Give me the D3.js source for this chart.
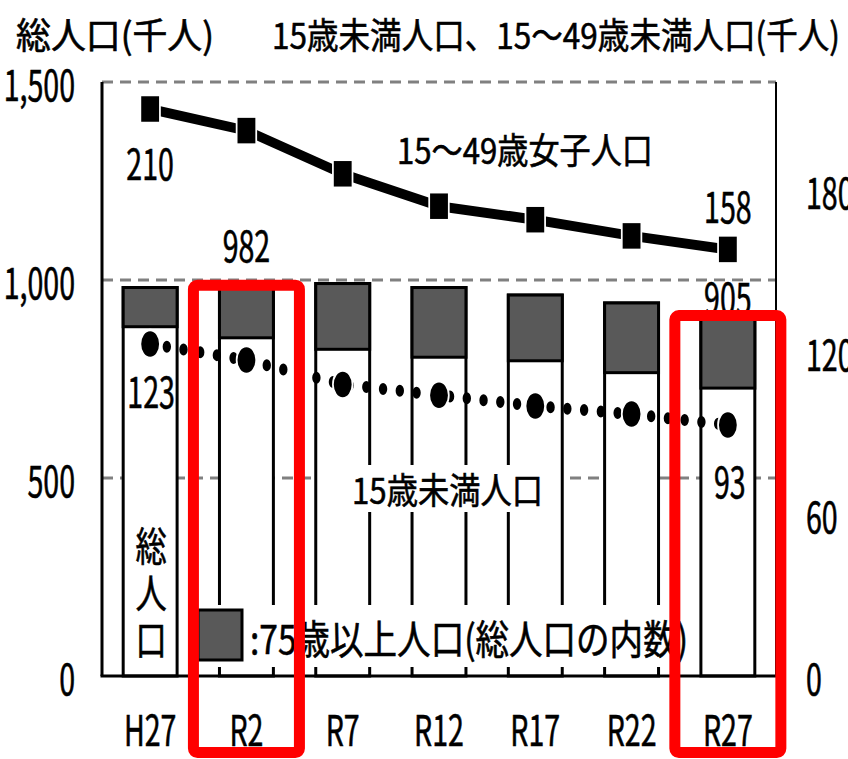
<!DOCTYPE html>
<html lang="ja">
<head>
<meta charset="utf-8">
<script src="https://cdn.jsdelivr.net/npm/d3@7/dist/d3.min.js"></script>
<style>
  html, body { margin: 0; padding: 0; background: #fff; }
  svg { display: block; }
  text { font-family: "Noto Sans CJK JP", "Noto Sans", sans-serif; fill: #000; stroke: #000; stroke-width: 0.6px; }
</style>
</head>
<body>
<svg id="chart" width="848" height="759"></svg>
<script>
// 年次区分
const categories = ["H27", "R2", "R7", "R12", "R17", "R22", "R27"];
// 総人口（千人）
const totalPop = [981, 982, 991, 981, 962, 942, 905];
// 75歳以上人口（総人口の内数、千人）
const pop75 = [99, 128, 166, 176, 166, 176, 178];
// 15～49歳女子人口（千人）
const women1549 = [210, 202, 186, 174, 169, 163, 158];
// 15歳未満人口（千人）
const under15 = [123, 117, 108, 104, 100, 97, 93];
// 目盛り
const leftTicks = [0, 500, 1000, 1500];
const rightTicks = [0, 60, 120, 180];
// 強調する年次
const highlighted = ["R2", "R27"];

const svg = d3.select("#chart");
const plotL = 102, plotR = 776, plotT = 82, plotB = 676;

const x = d3.scaleBand().domain(categories).range([plotL, plotR])
  .paddingInner(0.44).paddingOuter(0.22);
const yL = d3.scaleLinear().domain([0, 1500]).range([plotB, plotT]);
const yR = d3.scaleLinear().domain([0, 220]).range([plotB, plotT]);
const cx = c => x(c) + x.bandwidth() / 2;

// 横長の文字を圧縮して描く
const NUM_SIZE = 42, NUM_SX = 0.68;
function numText(g, txt, px, py, anchor) {
  return g.append("text")
    .attr("transform", `translate(${px},${py}) scale(${NUM_SX},1)`)
    .attr("text-anchor", anchor || "middle")
    .attr("dominant-baseline", "central")
    .style("font-size", NUM_SIZE + "px")
    .text(txt);
}
function fitText(g, txt, x0, width, py, size) {
  return g.append("text")
    .attr("x", x0).attr("y", py)
    .attr("dominant-baseline", "central")
    .attr("textLength", width)
    .attr("lengthAdjust", "spacingAndGlyphs")
    .style("font-size", size + "px")
    .text(txt);
}

// 目盛線
svg.append("g").selectAll("line")
  .data(leftTicks.filter(v => v > 0))
  .join("line")
  .attr("x1", plotL).attr("x2", plotR)
  .attr("y1", d => yL(d)).attr("y2", d => yL(d))
  .attr("stroke", "#808080").attr("stroke-width", 3)
  .attr("stroke-dasharray", "11,7");

// 総人口の棒
const bars = svg.append("g");
bars.selectAll("rect.total")
  .data(categories)
  .join("rect")
  .attr("class", "total")
  .attr("x", d => x(d)).attr("width", x.bandwidth())
  .attr("y", (d, i) => yL(totalPop[i]))
  .attr("height", (d, i) => yL(0) - yL(totalPop[i]))
  .attr("fill", "#fff").attr("stroke", "#000").attr("stroke-width", 3);
bars.selectAll("rect.old")
  .data(categories)
  .join("rect")
  .attr("class", "old")
  .attr("x", d => x(d)).attr("width", x.bandwidth())
  .attr("y", (d, i) => yL(totalPop[i]))
  .attr("height", (d, i) => yL(totalPop[i] - pop75[i]) - yL(totalPop[i]))
  .attr("fill", "#595959").attr("stroke", "#000").attr("stroke-width", 3);

// 軸線
const axes = svg.append("g").attr("stroke", "#000");
axes.append("line").attr("x1", plotL).attr("x2", plotL).attr("y1", yL(1500)).attr("y2", yL(0)).attr("stroke-width", 3);
axes.append("line").attr("x1", plotR).attr("x2", plotR).attr("y1", yL(1500)).attr("y2", yL(0)).attr("stroke-width", 2);
axes.append("line").attr("x1", plotL - 1.5).attr("x2", plotR + 1).attr("y1", yL(0)).attr("y2", yL(0)).attr("stroke-width", 3);

// 折れ線（横方向に圧縮した座標系）
const SX = 0.7;
const lines = svg.append("g").attr("transform", `scale(${SX},1)`);
const lx = c => cx(c) / SX;

const dotLine = d3.line().x((d, i) => lx(categories[i])).y(d => yR(d));
lines.append("path")
  .attr("d", dotLine(under15))
  .attr("fill", "none").attr("stroke", "#000").attr("stroke-width", 12)
  .attr("stroke-linecap", "round").attr("stroke-dasharray", "0,24");
lines.selectAll("circle")
  .data(under15)
  .join("circle")
  .attr("cx", (d, i) => lx(categories[i])).attr("cy", d => yR(d))
  .attr("r", 14).attr("fill", "#000").attr("stroke", "#fff").attr("stroke-width", 2.5);

lines.append("path")
  .attr("d", dotLine(women1549))
  .attr("fill", "none").attr("stroke", "#000").attr("stroke-width", 10)
  .attr("stroke-linejoin", "round");
lines.selectAll("rect")
  .data(women1549)
  .join("rect")
  .attr("x", (d, i) => lx(categories[i]) - 14).attr("y", d => yR(d) - 14)
  .attr("width", 28).attr("height", 28)
  .attr("fill", "#000").attr("stroke", "#fff").attr("stroke-width", 2.5);

// 系列名
const labels = svg.append("g");
fitText(labels, "15～49歳女子人口", 397, 256, 148, 36);
labels.append("rect").attr("x", 348).attr("y", 465).attr("width", 200).attr("height", 47).attr("fill", "#fff");
fitText(labels, "15歳未満人口", 352, 191, 488, 36);
["総", "人", "口"].forEach((ch, k) => {
  labels.append("text")
    .attr("transform", `translate(${cx("H27") + 1},${543 + k * 47}) scale(0.78,1)`)
    .attr("text-anchor", "middle").attr("dominant-baseline", "central")
    .style("font-size", "40px").text(ch);
});

// データラベル
const first = 0, last = categories.length - 1;
numText(labels, women1549[first], cx(categories[first]), yR(women1549[first]) + 52);
numText(labels, women1549[last], cx(categories[last]), yR(women1549[last]) - 45);
numText(labels, totalPop[1], cx(categories[1]), yL(totalPop[1]) - 44);
labels.append("rect")
  .attr("x", cx(categories[last]) - 22).attr("y", yL(totalPop[last]) - 36)
  .attr("width", 44).attr("height", 30).attr("fill", "#fff");
numText(labels, totalPop[last], cx(categories[last]), yL(totalPop[last]) - 22);
numText(labels, under15[first], cx(categories[first]) + 1, yR(under15[first]) + 45);
numText(labels, under15[last], cx(categories[last]) + 2, yR(under15[last]) + 54);

// 目盛りラベル
const tickG = svg.append("g");
leftTicks.forEach(v => numText(tickG, d3.format(",")(v), 75, yL(v), "end"));
rightTicks.forEach(v => numText(tickG, v, 806, yR(v), "start"));
categories.forEach(c => numText(tickG, c, cx(c), 727));

// タイトル
fitText(svg, "総人口(千人)", 16, 198, 33, 36);
fitText(svg, "15歳未満人口、15～49歳未満人口(千人)", 272, 568, 33, 36);

// 凡例
const legend = svg.append("g");
legend.append("rect").attr("x", 193).attr("y", 605).attr("width", 500).attr("height", 62).attr("fill", "#fff");
legend.append("rect").attr("x", 198).attr("y", 610).attr("width", 44).attr("height", 50)
  .attr("fill", "#595959").attr("stroke", "#000").attr("stroke-width", 3);
fitText(legend, ":75歳以上人口(総人口の内数)", 250, 438, 637, 40);

// 強調枠
svg.append("g").selectAll("rect")
  .data(highlighted)
  .join("rect")
  .attr("x", d => cx(d) - 53).attr("width", 106)
  .attr("y", d => yL(totalPop[categories.indexOf(d)]) - 2)
  .attr("height", d => 752.5 - (yL(totalPop[categories.indexOf(d)]) - 2))
  .attr("rx", 4)
  .attr("fill", "none").attr("stroke", "#ff0000").attr("stroke-width", 11);
</script>
</body>
</html>
